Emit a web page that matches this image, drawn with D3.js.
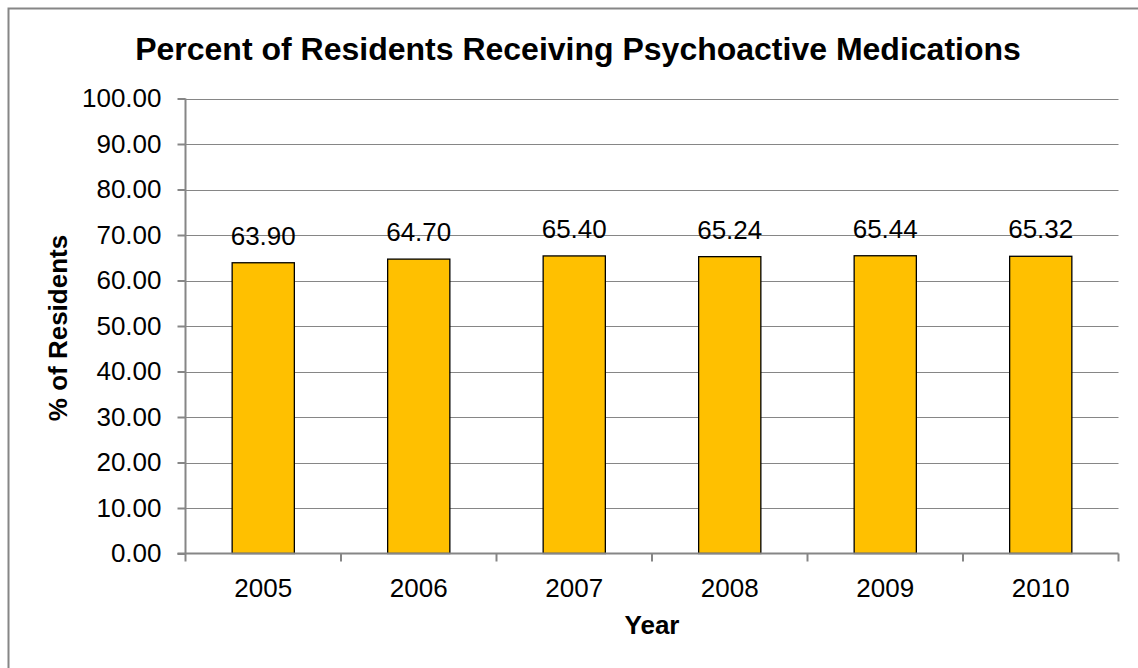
<!DOCTYPE html>
<html><head><meta charset="utf-8">
<script src="https://cdn.jsdelivr.net/npm/d3@7"></script>
<style>body{margin:0;background:#fff}svg{display:block;font-family:"Liberation Sans",Arial,sans-serif}</style>
</head><body>
<svg id="c" width="1138" height="668"></svg>
<script>
const years = ["2005","2006","2007","2008","2009","2010"];
const values = [63.90, 64.70, 65.40, 65.24, 65.44, 65.32];
const yTicks = [0,10,20,30,40,50,60,70,80,90,100];

const svg = d3.select("#c");
const L = 185.5, R = 1118.5, T = 98.5, B = 553.5;

svg.append("rect").attr("x",8.5).attr("y",8.5).attr("width",1140).attr("height",680)
  .attr("fill","#fff").attr("stroke","#868686").attr("stroke-width",2);

const x = d3.scaleBand().domain(years).range([L,R]).paddingInner(0.6).paddingOuter(0.3);
const y = d3.scaleLinear().domain([0,100]).range([B,T]);

// gridlines
svg.append("g").selectAll("line").data(yTicks.filter(d=>d>0)).join("line")
  .attr("x1",L).attr("x2",R).attr("y1",d=>Math.round(y(d))+0.5).attr("y2",d=>Math.round(y(d))+0.5)
  .attr("stroke","#868686").attr("stroke-width",1);

// bars
svg.append("g").selectAll("rect").data(values).join("rect")
  .attr("x",(d,i)=>x(years[i])).attr("width",x.bandwidth())
  .attr("y",d=>y(d)).attr("height",d=>B-y(d))
  .attr("fill","#FFC000").attr("stroke","#000").attr("stroke-width",1.3);

// value labels
svg.append("g").selectAll("text").data(values).join("text")
  .attr("x",(d,i)=>x(years[i])+x.bandwidth()/2).attr("y",d=>y(d)-18)
  .attr("text-anchor","middle").attr("font-size",26).attr("fill","#000")
  .text(d=>d.toFixed(2));

// y axis
const ya = d3.axisLeft(y).tickValues(yTicks).tickFormat(d=>d.toFixed(2)).tickSize(8).tickPadding(16);
const yg = svg.append("g").attr("transform",`translate(${L},0)`).call(ya);
yg.select(".domain").attr("stroke","#868686").attr("stroke-width",2).attr("d",`M0,${T}V${B}`);
yg.selectAll(".tick line").attr("stroke","#868686").attr("stroke-width",2);
yg.selectAll(".tick text").attr("font-size",26).attr("fill","#000").attr("font-family","Liberation Sans, Arial, sans-serif");

// x axis
const xg = svg.append("g").attr("transform",`translate(0,${B})`);
xg.append("line").attr("x1",L-8).attr("x2",R).attr("y1",0).attr("y2",0).attr("stroke","#868686").attr("stroke-width",2);
const bounds = d3.range(years.length+1).map(i=>L+i*(R-L)/years.length);
xg.selectAll("line.tk").data(bounds).join("line").attr("class","tk")
  .attr("x1",d=>d).attr("x2",d=>d).attr("y1",0).attr("y2",8).attr("stroke","#868686").attr("stroke-width",2);
xg.selectAll("text").data(years).join("text")
  .attr("x",d=>x(d)+x.bandwidth()/2).attr("y",43).attr("text-anchor","middle")
  .attr("font-size",26).attr("fill","#000").text(d=>d);

// titles
svg.append("text").attr("x",578).attr("y",60).attr("text-anchor","middle")
  .attr("font-size",32).attr("font-weight","bold").text("Percent of Residents Receiving Psychoactive Medications");
svg.append("text").attr("x",652).attr("y",634).attr("text-anchor","middle")
  .attr("font-size",26).attr("font-weight","bold").text("Year");
svg.append("text").attr("transform","translate(67,328) rotate(-90)").attr("text-anchor","middle")
  .attr("font-size",26).attr("font-weight","bold").text("% of Residents");
</script>
</body></html>
